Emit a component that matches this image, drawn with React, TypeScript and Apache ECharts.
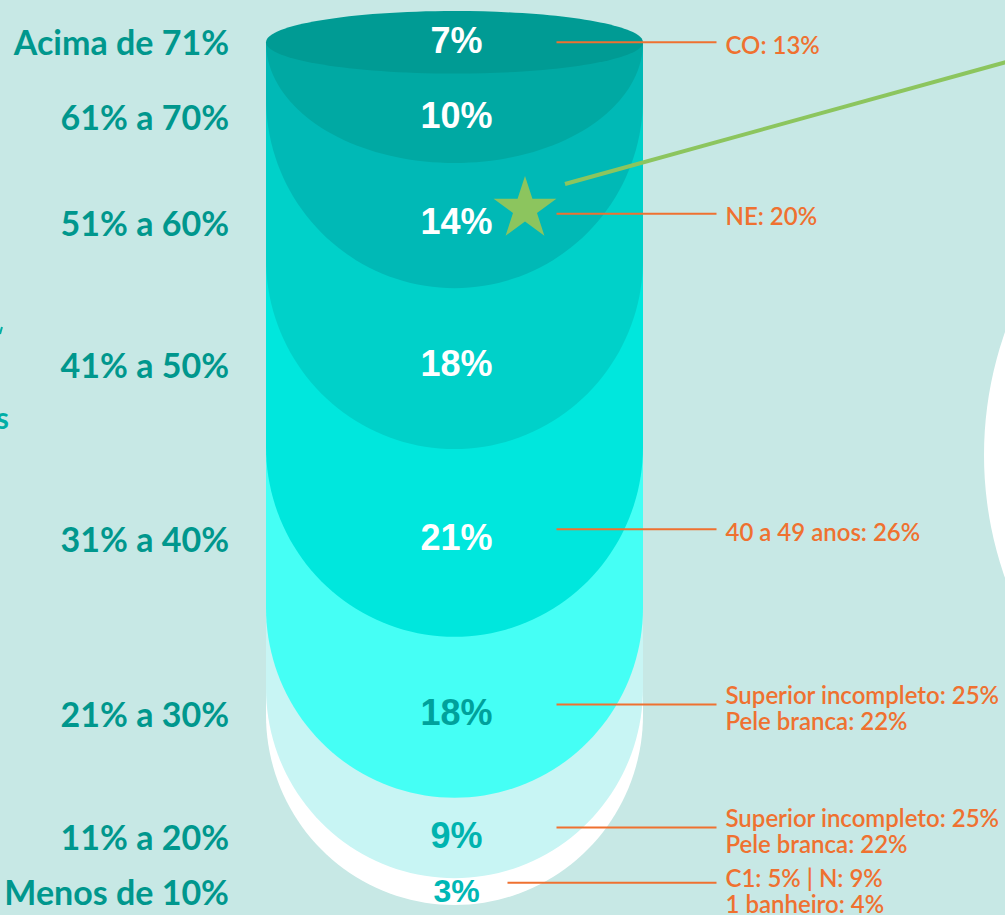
import React, { useEffect, useRef } from "react";
import * as echarts from "echarts";

// ---- data ----
const categories = [
  "Acima de 71%",
  "61% a 70%",
  "51% a 60%",
  "41% a 50%",
  "31% a 40%",
  "21% a 30%",
  "11% a 20%",
  "Menos de 10%",
];
const shares = [7, 10, 14, 18, 21, 18, 9, 3];
const highlights = [
  "CO: 13%",
  "",
  "NE: 20%",
  "",
  "40 a 49 anos: 26%",
  "Superior incompleto: 25%\nPele branca: 22%",
  "Superior incompleto: 25%\nPele branca: 22%",
  "C1: 5% | N: 9%\n1 banheiro: 4%",
];

// ---- styles ----
const BG = "#C7E8E5";
const layerColors = [
  "#009B94",
  "#00A9A3",
  "#00B9B6",
  "#00D1C9",
  "#00E7DD",
  "#45FFF5",
  "#C8F5F4",
  "#FFFFFF",
];
const valueLabelColors = [
  "#FFFFFF",
  "#FFFFFF",
  "#FFFFFF",
  "#FFFFFF",
  "#FFFFFF",
  "#00A19B",
  "#00B3AF",
  "#00B7B5",
];
const CAT_COLOR = "#00978D";
const ORANGE = "#EF7130";
const GREEN = "#8CC55E";

function starPoints(cx: number, cy: number, R: number) {
  const r = R * 0.382;
  const pts: number[][] = [];
  for (let k = 0; k < 10; k++) {
    const a = -Math.PI / 2 + (k * Math.PI) / 5;
    const rad = k % 2 === 0 ? R : r;
    pts.push([cx + rad * Math.cos(a), cy + rad * Math.sin(a)]);
  }
  return pts;
}

export default function App() {
  const ref = useRef<HTMLDivElement>(null);

  useEffect(() => {
    if (!ref.current) return;
    const chart = echarts.init(ref.current, null, { renderer: "svg" });

    const rows: number[][] = [];
    let acc = 0;
    shares.forEach((v, i) => {
      rows.push([i, acc, acc + v]);
      acc += v;
    });
    const drawRows = rows.slice().reverse();
    const n = shares.length;

    const renderItem = (params: any, api: any) => {
      const i = api.value(0);
      const start = api.value(1);
      const end = api.value(2);
      const pTop = api.coord([0, start]);
      const pBot = api.coord([1, end]);
      const xl = pTop[0];
      const xr = pBot[0];
      const yt = pTop[1];
      const yb = pBot[1];
      const cx = (xl + xr) / 2;
      const rx = (xr - xl) / 2;
      const capY = api.coord([0, shares[0] / 2])[1];
      const mid = (yt + yb) / 2;
      const bandH = yb - yt;
      const children: any[] = [];

      if (i === 0) {
        children.push({
          type: "ellipse",
          shape: { cx, cy: mid, rx, ry: bandH / 2 },
          style: { fill: layerColors[i] },
        });
      } else {
        const ry = Math.min(190, yb - capY);
        const ys = yb - ry;
        const pts: number[][] = [[xl, capY], [xl, ys]];
        const steps = 80;
        for (let k = 0; k <= steps; k++) {
          const a = Math.PI - (k * Math.PI) / steps;
          pts.push([cx + rx * Math.cos(a), ys + ry * Math.sin(a)]);
        }
        pts.push([xr, capY]);
        children.push({
          type: "polygon",
          shape: { points: pts },
          style: { fill: layerColors[i] },
        });
      }

      const labelY = mid - 0.03 * bandH;
      children.push({
        type: "text",
        style: {
          text: shares[i] + "%",
          x: cx + 2,
          y: labelY,
          fill: valueLabelColors[i],
          fontFamily: "Liberation Sans, Arial, sans-serif",
          fontWeight: "bold",
          fontSize: i === n - 1 ? 32 : 36,
          align: "center",
          verticalAlign: "middle",
        },
      });

      children.push({
        type: "text",
        style: {
          text: categories[i],
          x: xl - 37,
          y: labelY + 1,
          fill: CAT_COLOR,
          fontFamily: "Lato, sans-serif",
          fontWeight: "bold",
          fontSize: 34,
          align: "right",
          verticalAlign: "middle",
        },
      });

      if (highlights[i]) {
        const lineY = i === 0 ? mid : labelY - 8;
        const lx1 = i === n - 1 ? cx + 53 : cx + 102;
        children.push({
          type: "line",
          shape: { x1: lx1, y1: lineY, x2: cx + 262, y2: lineY },
          style: { stroke: ORANGE, lineWidth: 2 },
        });
        const multi = highlights[i].indexOf("\n") >= 0;
        children.push({
          type: "text",
          style: {
            text: highlights[i],
            x: cx + 271,
            y: lineY + (i === n - 1 ? 8 : multi ? 3 : 2),
            fill: ORANGE,
            fontFamily: "Lato, sans-serif",
            fontWeight: 600,
            fontSize: 24,
            lineHeight: 26,
            align: "left",
            verticalAlign: "middle",
          },
        });
      }

      return { type: "group", children };
    };

    chart.setOption({
      animation: false,
      backgroundColor: BG,
      grid: { left: 266, top: 11, width: 377, height: 894 },
      xAxis: { type: "value", min: 0, max: 1, show: false },
      yAxis: { type: "value", min: 0, max: 100, inverse: true, show: false },
      graphic: [
        {
          type: "circle",
          shape: { cx: 1354, cy: 455, r: 370 },
          style: { fill: "#FFFFFF" },
          z: 0,
        },
        {
          type: "text",
          style: {
            text: "s",
            x: 9,
            y: 417,
            fill: "#00AEA6",
            fontFamily: "Lato, sans-serif",
            fontWeight: "bold",
            fontSize: 30,
            align: "right",
            verticalAlign: "middle",
          },
        },
        {
          type: "line",
          shape: { x1: 0, y1: 334, x2: 2, y2: 327 },
          style: { stroke: "#00AEA6", lineWidth: 2 },
        },
        {
          type: "line",
          shape: { x1: 565, y1: 184, x2: 1010, y2: 61 },
          style: { stroke: GREEN, lineWidth: 4 },
          z: 10,
        },
        {
          type: "polygon",
          shape: { points: starPoints(525, 209, 33) },
          style: { fill: GREEN },
          z: 10,
        },
      ],
      series: [
        {
          type: "custom",
          renderItem,
          data: drawRows,
          encode: { x: -1, y: [1, 2] },
          clip: false,
          silent: true,
          z: 2,
        },
      ],
    });

    return () => chart.dispose();
  }, []);

  return (
    <div
      ref={ref}
      style={{ position: "fixed", left: 0, top: 0, width: 1005, height: 915 }}
    />
  );
}
